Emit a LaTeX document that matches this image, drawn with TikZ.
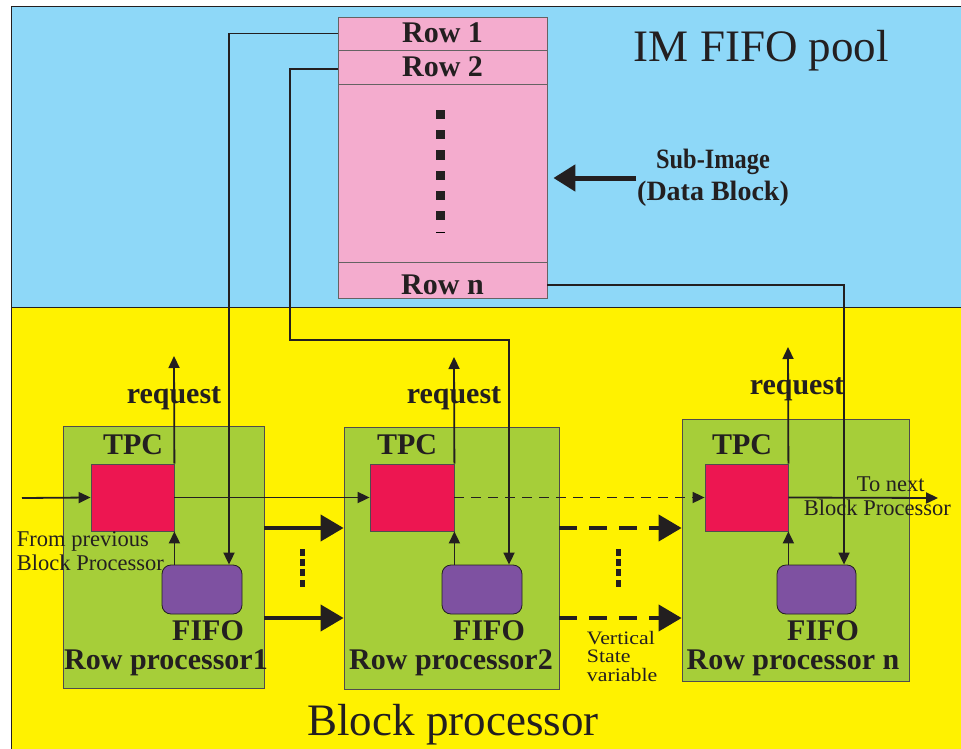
\documentclass[tikz,border=0pt]{standalone}
\usepackage{fontspec}
\setmainfont{Liberation Serif}
\newfontfamily\widefont[FakeStretch=1.15]{Liberation Serif}
\newfontfamily\narrowfont[FakeStretch=0.87]{Liberation Serif}
\usetikzlibrary{arrows.meta,positioning,calc}
\definecolor{poolblue}{HTML}{8ED8F8}
\definecolor{blockyellow}{HTML}{FFF200}
\definecolor{procgreen}{HTML}{A6CE39}
\definecolor{tpcred}{HTML}{ED1651}
\definecolor{fifopurple}{HTML}{7E51A1}
\definecolor{rowpink}{HTML}{F4ACCE}
\definecolor{linec}{HTML}{231F20}

\begin{document}
\begin{tikzpicture}[x=1pt,y=-1pt,>={Triangle[length=12pt,width=11pt]},line width=1.8pt,
  every node/.style={inner sep=0pt,text=linec},
  lbl/.style={font=\fontsize{30}{32}\selectfont\bfseries},
  smalltxt/.style={font=\fontsize{22.5}{24}\selectfont,align=left},
  bigtitle/.style={font=\fontsize{45}{48}\selectfont},
  rowproc/.style={draw=linec!80,line width=0.8pt,fill=procgreen,minimum height=262pt},
  tpc/.style={draw=linec!80,line width=0.8pt,fill=tpcred,minimum width=83pt,minimum height=67pt},
  fifo/.style={draw=linec,line width=0.8pt,fill=fifopurple,rounded corners=9pt,minimum width=80pt,minimum height=49pt},
  poolrow/.style={lbl,draw=linec!70,line width=0.8pt,minimum width=209pt,text height=19pt,text depth=0pt},
  link/.style={draw=linec,->},
  statearrow/.style={draw=linec,line width=4pt,-{Triangle[length=23pt,width=26pt]}}]
\path[use as bounding box] (0,0) rectangle (961,749);
% the two areas
\draw[linec,line width=1pt,fill=poolblue] (11,7) rectangle (962,307);
\draw[linec,line width=1pt,fill=blockyellow] (11,307) rectangle (962,750);

% IM FIFO pool
\node[draw=linec!70,line width=0.8pt,fill=rowpink,minimum width=209pt,minimum height=281pt] (pool) at (442.5,157.5) {};
\node[poolrow,minimum height=33pt] (row1) at (442.5,33.5) {Row 1};
\node[poolrow,minimum height=34pt] (row2) at (442.5,67) {Row 2};
\node[poolrow,minimum height=36pt,text height=29pt] (rown) at (442.5,280) {Row n};
\foreach \yy in {115,135,...,215}
  \fill[linec] (436,\yy-4.5) rectangle ++(9,9);
\draw[line width=1pt] (436,232) -- (445,232);
\node[bigtitle,anchor=base west] (poollbl) at (633,62) {IM FIFO pool};
\node[font=\fontsize{28}{32}\selectfont\bfseries,align=center] (subimg) at (713,178) {{\narrowfont\bfseries Sub-Image}\\(Data Block)};
\draw[draw=linec,line width=5pt,-{Triangle[length=22pt,width=26pt]}] (subimg.west) -- ($(pool.east |- subimg.west)+(6,0)$);

% row processors
\node[rowproc,minimum width=201pt] (proc1) at (163.5,557) {};
\node[rowproc,minimum width=215pt] (proc2) at (451.5,558) {};
\node[rowproc,minimum width=227pt] (procn) at (795.5,550) {};
\node[tpc] (tpc1) at (132.5,497.5) {};
\node[tpc,minimum width=84pt] (tpc2) at (412,497.5) {};
\node[tpc] (tpcn) at (746.5,497.5) {};
\node[fifo] (fifo1) at (202,589.5) {};
\node[fifo] (fifo2) at (482,589.5) {};
\node[fifo,minimum width=79pt] (fifon) at (816.5,589.5) {};

\node[lbl,anchor=base] (tpclbl1) at (133,454) {TPC};
\node[lbl,anchor=base] (tpclbl2) at (407,454) {TPC};
\node[lbl,anchor=base] (tpclbln) at (742,454) {TPC};
\node[lbl,anchor=base] (reqlbl1) at (174,403) {request};
\node[lbl,anchor=base] (reqlbl2) at (454,403) {request};
\node[lbl,anchor=base] (reqlbln) at (797,394) {request};
\node[lbl,anchor=base] (fifolbl1) at (208,640) {FIFO};
\node[lbl,anchor=base] (fifolbl2) at (489,640) {FIFO};
\node[lbl,anchor=base] (fifolbln) at (823,640) {FIFO};
\node[lbl,anchor=base] (proclbl1) at (166,669) {Row processor1};
\node[lbl,anchor=base] (proclbl2) at (451,669) {Row processor2};
\node[lbl,anchor=base] (proclbln) at (793,669) {Row processor n};

\node[smalltxt,anchor=base west] (fromprev) at (16,570) {From previous\\Block Processor};
\node[smalltxt,anchor=base west] (tonextlbl) at (856,491) {To next};
\node[smalltxt,anchor=base west] (nextbp) at (803,515) {Block Processor};
\node[font=\widefont\fontsize{19}{18.5}\selectfont,align=left,anchor=base west] (statelbl) at (586,681) {Vertical\\State\\variable};
\node[bigtitle,anchor=base] (blocklbl) at (453,735) {Block processor};

% request and data paths
\coordinate (req1) at (174,356);
\coordinate (req2) at (454,357);
\coordinate (reqn) at (788,347);
\draw[link] (tpc1.north east) -- (req1);
\draw[link] (tpc2.north east) -- (req2);
\draw[link] (tpcn.north east) -- (reqn);
\draw[link] (tpc1.south east |- fifo1.north) -- (tpc1.south east);
\draw[link] (tpc2.south east |- fifo2.north) -- (tpc2.south east);
\draw[link] (tpcn.south east |- fifon.north) -- (tpcn.south east);

\coordinate (from) at (22,498);
\coordinate (tonext) at (938,498);
\draw[link] (from) -- (tpc1.west);
\draw[link] (tpc1.east) -- (tpc2.west);
\draw[link,dash pattern=on 10pt off 7pt] (tpc2.east) -- (tpcn.west);
\draw[link] (tpcn.east) -- (tonext);

\coordinate (bend2) at (290,340);
\draw[link] (row1.west) -| ([xshift=27pt]fifo1.north);
\draw[link] ([yshift=-2pt]row2.west) -| (bend2) -| ([xshift=27pt]fifo2.north);
\draw[link] ([yshift=-5pt]rown.east) -| ([xshift=27.5pt]fifon.north);

% vertical state variables
\coordinate (st1) at (0,528);
\coordinate (st2) at (0,618);
\draw[statearrow] (proc1.east |- st1) -- (proc2.west |- st1);
\draw[statearrow] (proc1.east |- st2) -- (proc2.west |- st2);
\draw[statearrow,dash pattern=on 18pt off 12pt] (proc2.east |- st1) -- (procn.west |- st1);
\draw[statearrow,dash pattern=on 18pt off 12pt] (proc2.east |- st2) -- (procn.west |- st2);
\foreach \yy in {552,562,572,583} {
  \fill[linec] (299.5,\yy-3.5) rectangle ++(5,7);
  \fill[linec] (616,\yy-3.5) rectangle ++(5,7);
}
\end{tikzpicture}
\end{document}
